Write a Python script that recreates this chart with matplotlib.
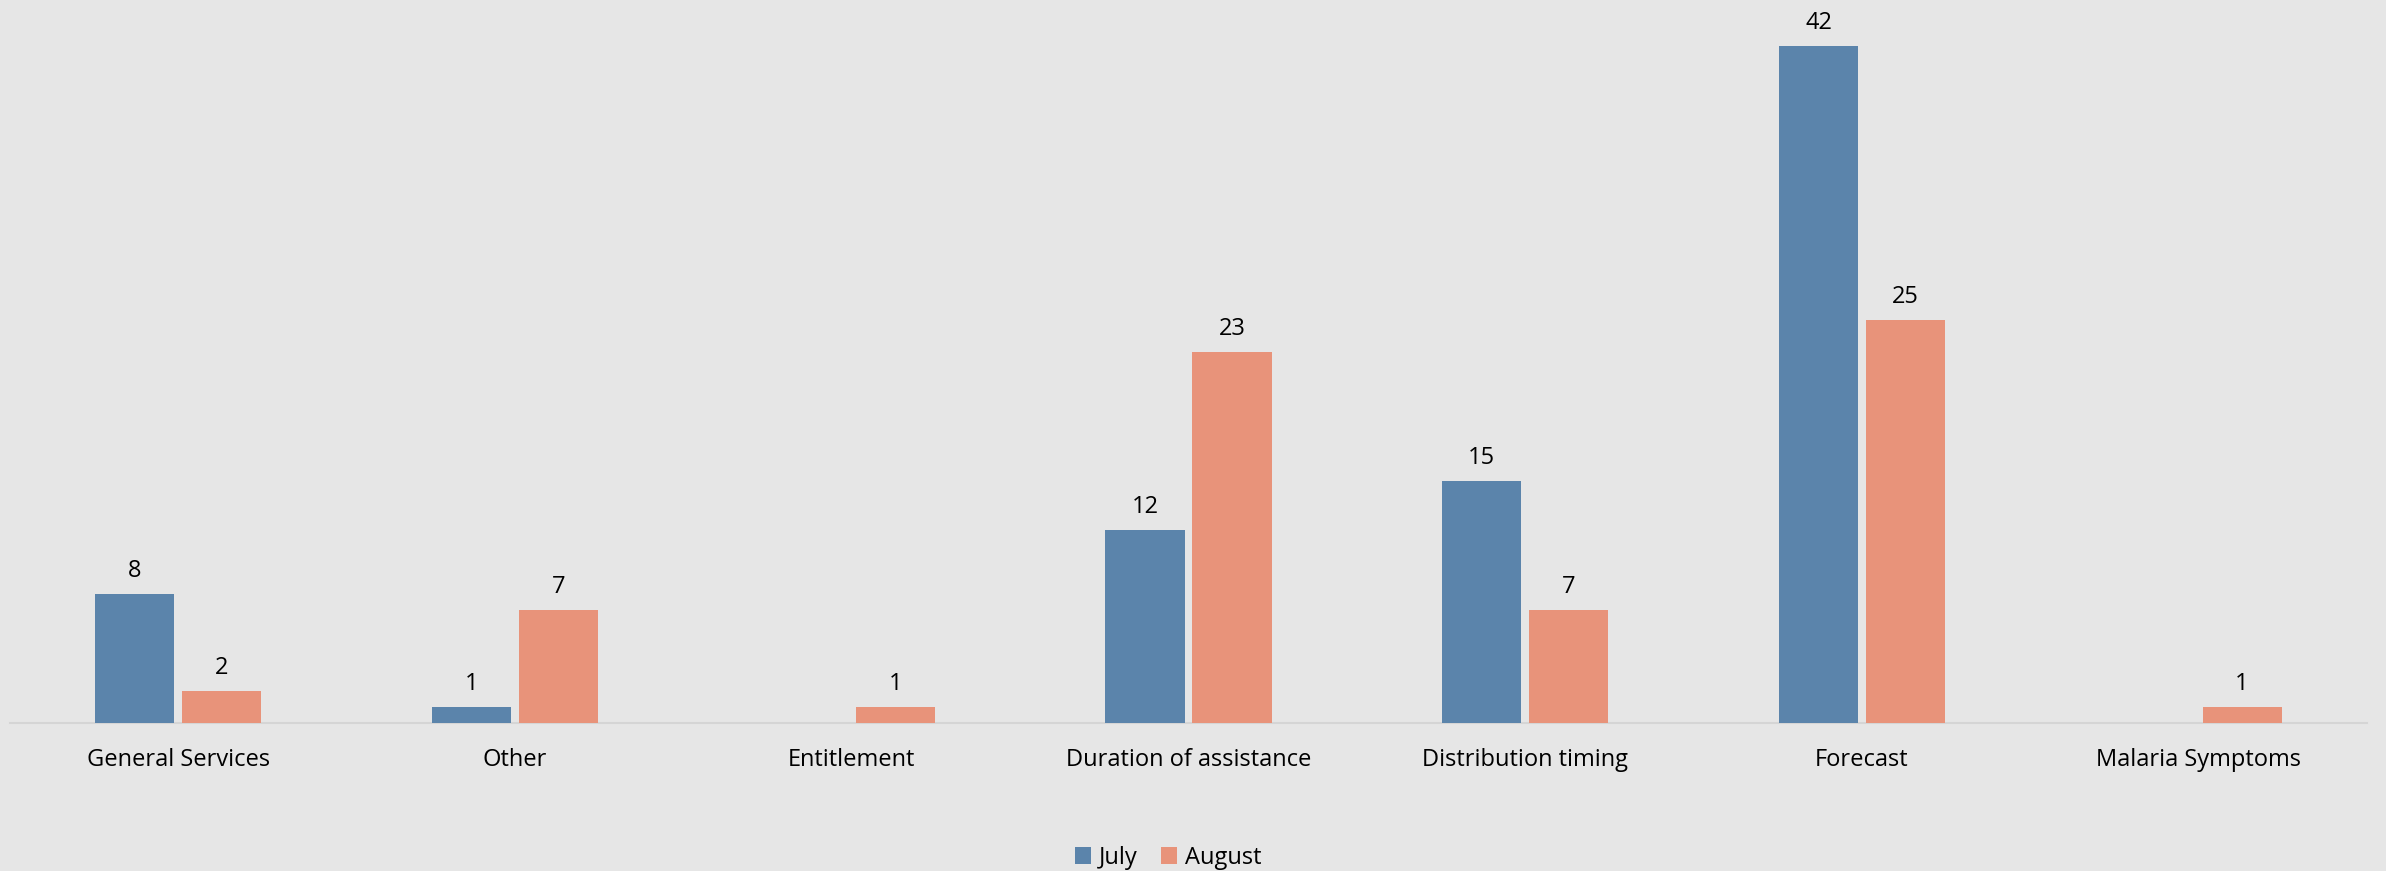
import matplotlib
matplotlib.use("Agg")
import matplotlib.pyplot as plt
import numpy as np

categories = ["General Services", "Other", "Entitlement", "Duration of assistance",
              "Distribution timing", "Forecast", "Malaria Symptoms"]
july = [8, 1, 0, 12, 15, 42, 0]
august = [2, 7, 1, 23, 7, 25, 1]
series_names = ["July", "August"]

blue = "#5B84AB"
orange = "#E8937A"
bg = "#E6E6E6"

plt.rcParams['font.family'] = ['Open Sans', 'DejaVu Sans']

W, H = 2386, 871
fig = plt.figure(figsize=(W / 100, H / 100), dpi=100, facecolor=bg)
left, right, bottom_px, top_px = 10, 2367, 723, 10
ax = fig.add_axes([left / W, 1 - bottom_px / H, (right - left) / W, (bottom_px - top_px) / H])
ax.set_facecolor(bg)

x = np.arange(len(categories))
w = 0.235
off = 0.129
b1 = ax.bar(x - off, july, w, color=blue, label=series_names[0], zorder=3)
b2 = ax.bar(x + off, august, w, color=orange, label=series_names[1], zorder=3)

for bars, vals in ((b1, july), (b2, august)):
    for r, v in zip(bars, vals):
        if v > 0:
            ax.annotate(str(v), (r.get_x() + r.get_width() / 2, v), xytext=(0, 11),
                        textcoords="offset pixels", ha="center", va="bottom", fontsize=17,
                        color="#000000")

ax.set_xlim(-0.5, len(categories) - 0.5)
ax.set_ylim(0, (bottom_px - top_px) / 16.12)
ax.set_yticks([])
ax.set_xticks(x)
ax.set_xticklabels(categories, fontsize=17)
ax.tick_params(axis="x", length=0, pad=18)
for s in ("top", "right", "left"):
    ax.spines[s].set_visible(False)
ax.spines["bottom"].set_color("#D5D5D5")
ax.spines["bottom"].set_linewidth(1.5)

fig.legend(handles=[b1, b2], labels=series_names, loc="center", bbox_to_anchor=(1168 / W, 1 - 858 / H),
           ncol=2, frameon=False, fontsize=17, handlelength=0.7, handleheight=0.7,
           handletextpad=0.3, columnspacing=1.0)

fig.savefig("out.png", dpi=100, facecolor=bg)
